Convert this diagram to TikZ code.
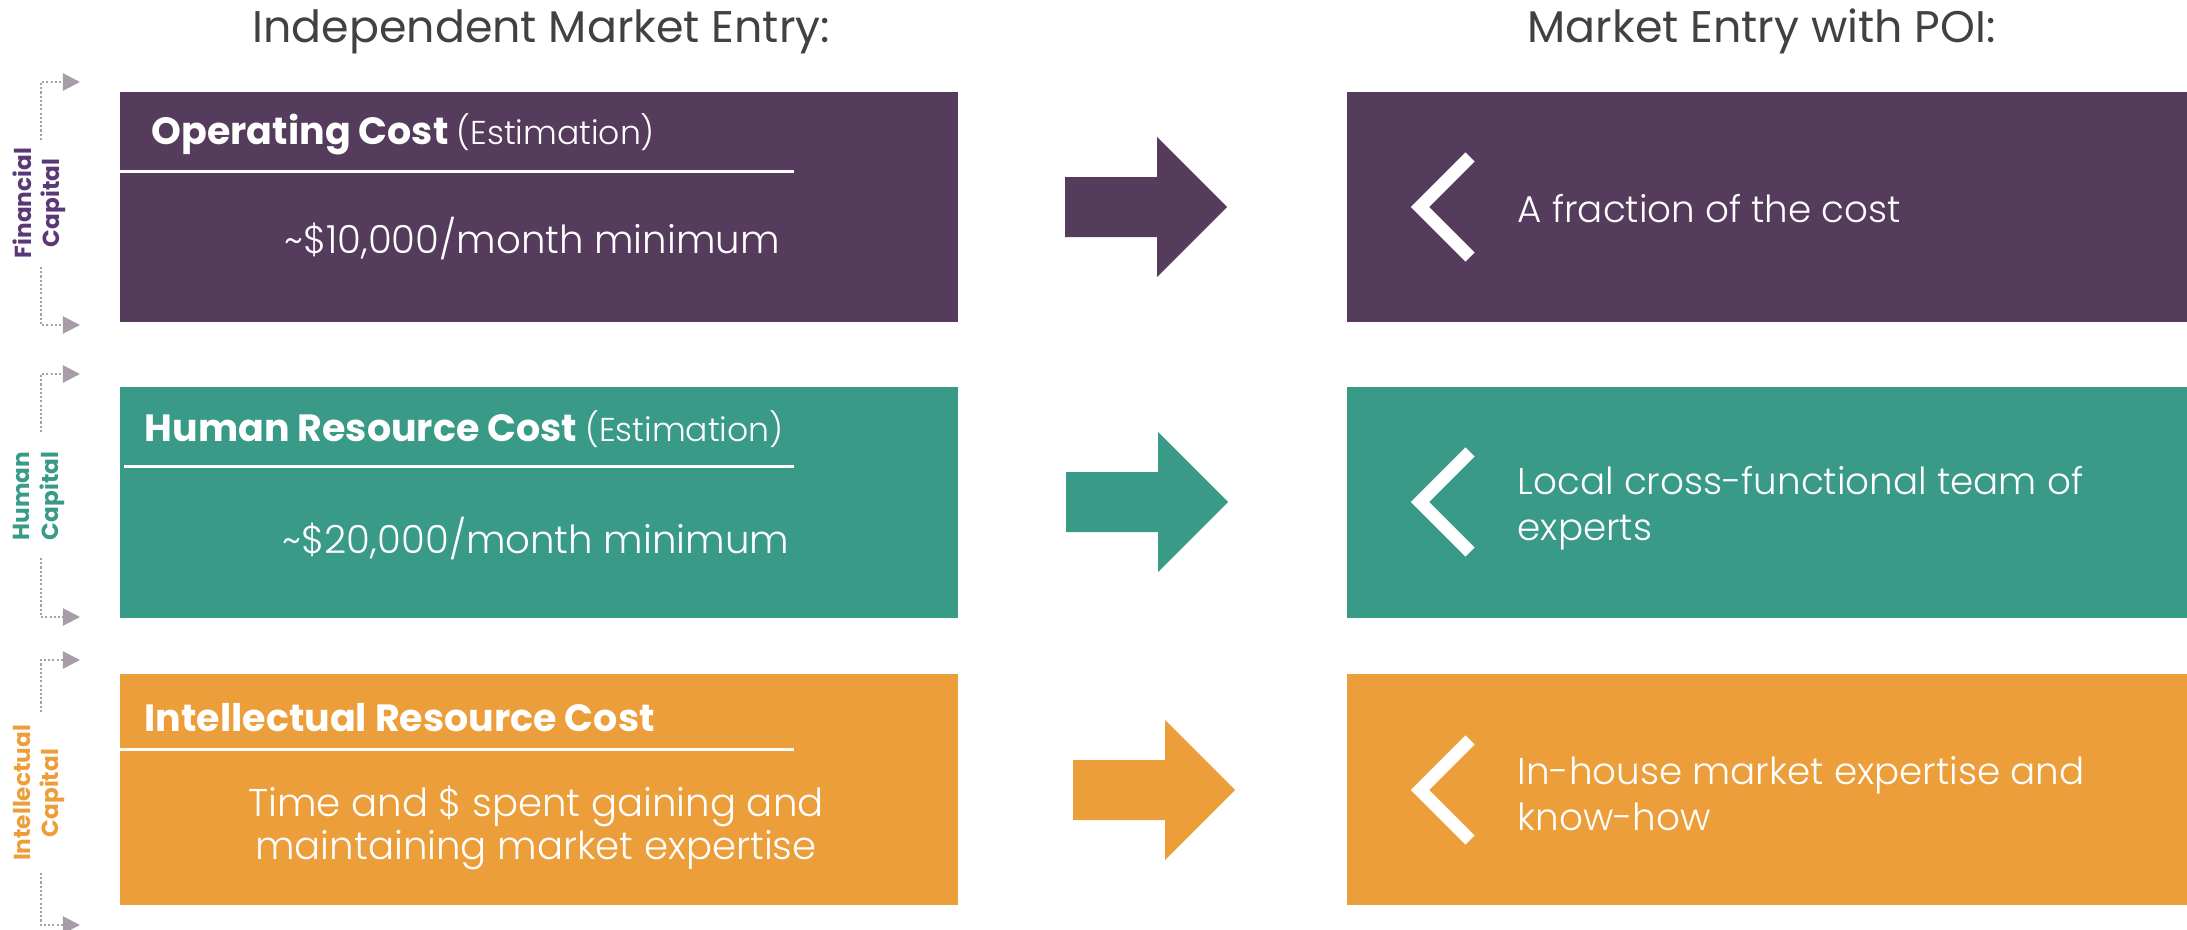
\documentclass[tikz,border=0pt]{standalone}
\usepackage{fontspec}
\setmainfont{Poppins}
\newfontfamily\lightfont{Poppins Light}
\usetikzlibrary{positioning,arrows.meta}

\definecolor{fincap}{HTML}{553B5C}
\definecolor{humcap}{HTML}{389A87}
\definecolor{intcap}{HTML}{EC9E3A}
\definecolor{finlabel}{HTML}{5A3878}
\definecolor{titlegray}{HTML}{414141}
\definecolor{dotgray}{HTML}{A3A3A3}
\definecolor{tipgray}{HTML}{A99CA9}

\tikzset{
  costbox/.style={fill=#1, minimum width=8.38cm, minimum height=2.30cm, inner sep=0pt},
  poibox/.style={fill=#1, minimum width=8.40cm, minimum height=2.30cm, inner sep=0pt},
  coltitle/.style={anchor=base west, inner sep=0pt, text=titlegray, font=\fontsize{12.6}{14}\selectfont},
  boxhead/.style={anchor=base west, inner sep=0pt, text=white, font=\bfseries\fontsize{10.8}{12}\selectfont},
  boxtext/.style={anchor=base, inner sep=0pt, text=white, align=center, font=\lightfont\fontsize{11}{12.2}\selectfont},
  poitext/.style={anchor=base west, inner sep=0pt, text=white, align=left, font=\lightfont\fontsize{10.6}{12.8}\selectfont},
  sidelab/.style={rotate=90, align=center, inner sep=0pt, text=#1, font=\bfseries\fontsize{6.6}{8}\selectfont},
  dotlink/.style={dotgray, line width=0.6pt, dash pattern=on 0.6pt off 0.6pt, -{Triangle[length=0.17cm, width=0.17cm, color=tipgray]}},
  chev/.style={white, line width=3.7pt, miter limit=10},
  rule/.style={white, line width=0.85pt}
}

\begin{document}
\begin{tikzpicture}[x=0.01cm, y=-0.01cm]
\useasboundingbox (0,0) rectangle (2187,930);

% column titles
\node[coltitle] (lefttitle) at (252,42) {Independent Market Entry:};
\node[coltitle] (righttitle) at (1527,42) {Market Entry with POI:};

% left column
\node[costbox=fincap] (opcost) at (539,207) {};
\node[costbox=humcap] (hrcost) at (539,502.5) {};
\node[costbox=intcap] (ircost) at (539,789.5) {};

\node[boxhead] (ophead) at (151,144) {Operating Cost {\mdseries\lightfont\fontsize{9.4}{11}\selectfont(Estimation)}};
\draw[rule] (120,171.5) -- (794,171.5);
\node[boxtext] (optext) at (532,253) {\textasciitilde\$10,000/month minimum};

\node[boxhead] (hrhead) at (144,441) {Human Resource Cost {\mdseries\lightfont\fontsize{9.4}{11}\selectfont(Estimation)}};
\draw[rule] (124,466) -- (794,466);
\node[boxtext] (hrtext) at (536,553) {\textasciitilde\$20,000/month minimum};

\node[boxhead] (irhead) at (144,731) {Intellectual Resource Cost};
\draw[rule] (120,749) -- (794,749);
\node[boxtext] (irtext) at (536,859) {Time and \$ spent gaining and\\maintaining market expertise};

% right column
\node[poibox=fincap] (opoi) at (1767,207) {};
\node[poibox=humcap] (hpoi) at (1767,502.5) {};
\node[poibox=intcap] (ipoi) at (1767,789.5) {};

\node[poitext] (opoitext) at (1517,222) {A fraction of the cost};
\node[poitext] (hpoitext) at (1517,540) {Local cross-functional team of\\experts};
\node[poitext] (ipoitext) at (1517,830) {In-house market expertise and\\know-how};

% block arrows and chevrons
\foreach \x/\y/\c in {1065/207/fincap, 1066/502/humcap, 1073/790/intcap}{
  \fill[\c] (\x,\y-30) -- ++(92,0) -- ++(0,-40) -- ++(70,70) -- ++(-70,70) -- ++(0,-40) -- ++(-92,0) -- cycle;
  \draw[chev] (1470,\y-50) -- (1420,\y) -- (1470,\y+50);
}

% side labels
\node[sidelab=finlabel] (finlab) at (39,203) {Financial\\Capital};
\node[sidelab=humcap] (humlab) at (39,496) {Human\\Capital};
\node[sidelab=intcap] (intlab) at (39,793) {Intellectual\\Capital};

% dotted brackets
\foreach \n/\a/\b/\c/\d in {fin/140/82/267/325, hum/432/374/558/617, int/712/660/873/925}{
  \coordinate (\n top) at (41,\a);
  \coordinate (\n topend) at (80,\b);
  \coordinate (\n bot) at (41,\c);
  \coordinate (\n botend) at (80,\d);
  \draw[dotlink] (\n top) |- (\n topend);
  \draw[dotlink] (\n bot) |- (\n botend);
}
\end{tikzpicture}
\end{document}
